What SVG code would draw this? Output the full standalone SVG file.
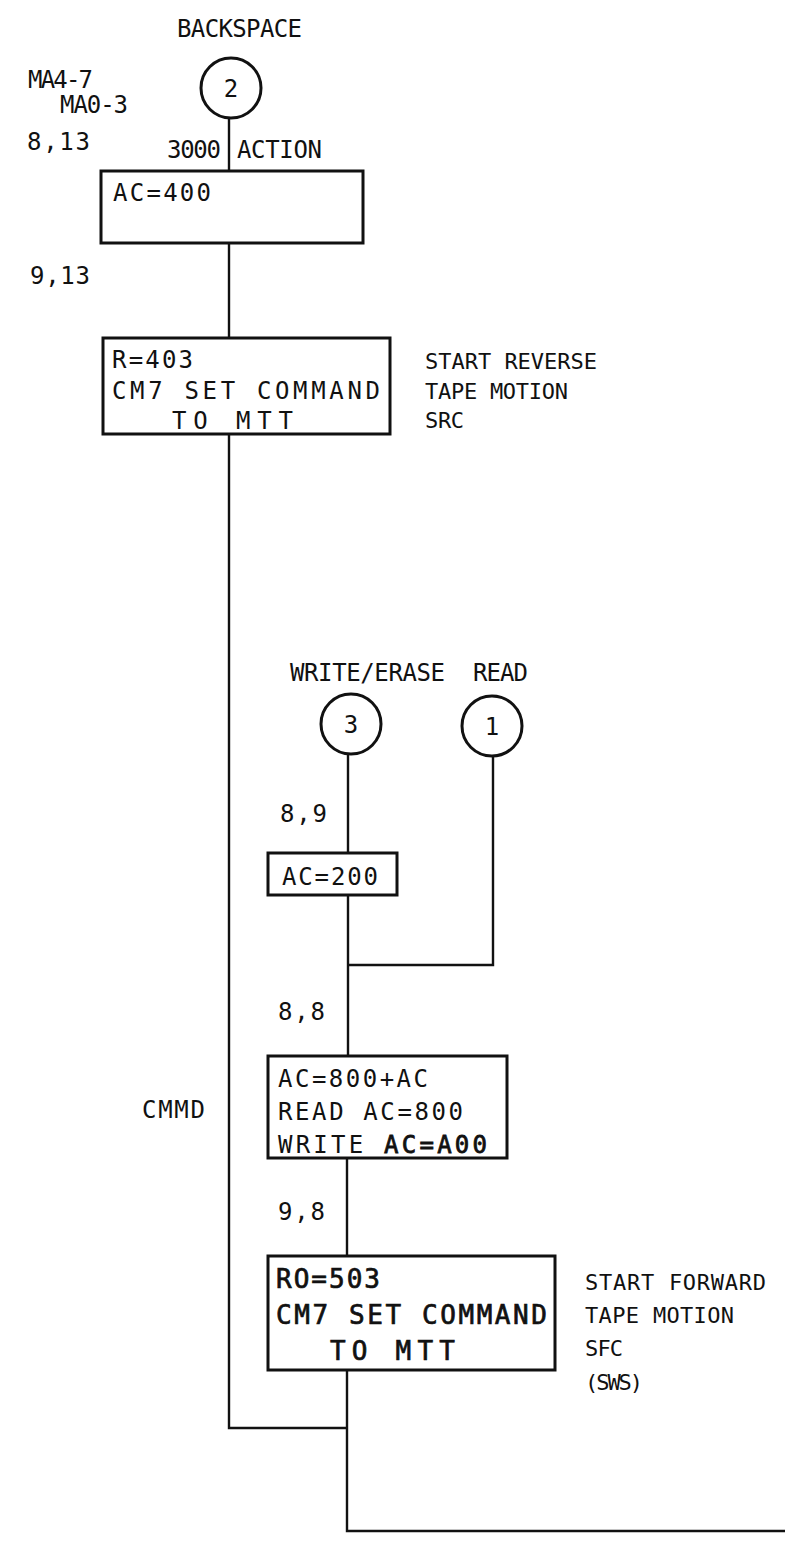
<svg xmlns="http://www.w3.org/2000/svg" width="785" height="1542" viewBox="0 0 785 1542">
<style>
.t{font-family:"DejaVu Sans Mono","Liberation Mono",monospace;font-size:24px;fill:#111}
.n{font-size:22px}
.b{font-size:26px;stroke:#111;stroke-width:0.7px}
.h{stroke:#111;stroke-width:0.8px}
.box{fill:none;stroke:#111;stroke-width:3}
.circ{fill:#fff;stroke:#111;stroke-width:3}
.ln{fill:none;stroke:#111;stroke-width:2.4}
</style>
<rect width="785" height="1542" fill="#fff"/>
<g id="connectors">
<path class="ln" d="M229,118 V171"/>
<path class="ln" d="M229,243 V338"/>
<path class="ln" d="M229,434 V1428 H347"/>
<path class="ln" d="M348,754 V853"/>
<path class="ln" d="M348,895 V1056"/>
<path class="ln" d="M493,756 V965 H348"/>
<path class="ln" d="M347,1158 V1256"/>
<path class="ln" d="M347,1370 V1531 H785"/>
</g>
<g id="labels">
<text class="t" x="177" y="37" textLength="125" lengthAdjust="spacing">BACKSPACE</text>
<text class="t" x="28" y="88" textLength="65" lengthAdjust="spacing">MA4-7</text>
<text class="t" x="60" y="113" textLength="68" lengthAdjust="spacing">MA0-3</text>
<text class="t" x="27" y="150" textLength="63" lengthAdjust="spacing">8,13</text>
<text class="t" x="167" y="158" textLength="54" lengthAdjust="spacing">3000</text>
<text class="t" x="237" y="158" textLength="85" lengthAdjust="spacing">ACTION</text>
<text class="t" x="30" y="284" textLength="60" lengthAdjust="spacing">9,13</text>
<text class="t n" x="425" y="369" textLength="172" lengthAdjust="spacing">START REVERSE</text>
<text class="t n" x="425" y="399" textLength="143" lengthAdjust="spacing">TAPE MOTION</text>
<text class="t n" x="425" y="428" textLength="39" lengthAdjust="spacing">SRC</text>
<text class="t" x="290" y="681" textLength="155" lengthAdjust="spacing">WRITE/ERASE</text>
<text class="t" x="473" y="681" textLength="55" lengthAdjust="spacing">READ</text>
<text class="t" x="280" y="822" textLength="47" lengthAdjust="spacing">8,9</text>
<text class="t" x="278" y="1020" textLength="47" lengthAdjust="spacing">8,8</text>
<text class="t" x="142" y="1118" textLength="63" lengthAdjust="spacing">CMMD</text>
<text class="t" x="278" y="1220" textLength="47" lengthAdjust="spacing">9,8</text>
<text class="t n" x="585" y="1290" textLength="181" lengthAdjust="spacing">START FORWARD</text>
<text class="t n" x="585" y="1323" textLength="149" lengthAdjust="spacing">TAPE MOTION</text>
<text class="t n" x="585" y="1356" textLength="38" lengthAdjust="spacing">SFC</text>
<text class="t n" x="585" y="1390" textLength="58" lengthAdjust="spacing">(SWS)</text>
</g>
<g id="node-2">
<circle class="circ" cx="231" cy="88" r="30"/>
<text class="t" x="231" y="97" text-anchor="middle">2</text>
</g>
<g id="node-ac400">
<rect class="box" x="101" y="171" width="262" height="72"/>
<text class="t" x="113" y="201" textLength="98" lengthAdjust="spacing">AC=400</text>
</g>
<g id="node-r403">
<rect class="box" x="103" y="338" width="287" height="96"/>
<text class="t" x="112" y="368" textLength="81" lengthAdjust="spacing">R=403</text>
<text class="t" x="112" y="399" textLength="268" lengthAdjust="spacing">CM7  SET COMMAND</text>
<text class="t" x="172" y="429" textLength="121" lengthAdjust="spacing">TO MTT</text>
</g>
<g id="node-3">
<circle class="circ" cx="351" cy="724" r="30"/>
<text class="t" x="351" y="733" text-anchor="middle">3</text>
</g>
<g id="node-1">
<circle class="circ" cx="492" cy="726" r="30"/>
<text class="t" x="492" y="735" text-anchor="middle">1</text>
</g>
<g id="node-ac200">
<rect class="box" x="268" y="853" width="129" height="42"/>
<text class="t" x="282" y="885" textLength="96" lengthAdjust="spacing">AC=200</text>
</g>
<g id="node-ac800">
<rect class="box" x="268" y="1056" width="239" height="102"/>
<text class="t" x="278" y="1087" textLength="150" lengthAdjust="spacing">AC=800+AC</text>
<text class="t" x="278" y="1120" textLength="185" lengthAdjust="spacing">READ AC=800</text>
<text class="t" x="278" y="1153" textLength="209" lengthAdjust="spacing">WRITE <tspan class="h">AC=A00</tspan></text>
</g>
<g id="node-ro503">
<rect class="box" x="268" y="1256" width="287" height="114"/>
<text class="t b" x="276" y="1288" textLength="104" lengthAdjust="spacing">RO=503</text>
<text class="t b" x="276" y="1324" textLength="271" lengthAdjust="spacing">CM7 SET COMMAND</text>
<text class="t b" x="330" y="1360" textLength="125" lengthAdjust="spacing">TO MTT</text>
</g>
</svg>
